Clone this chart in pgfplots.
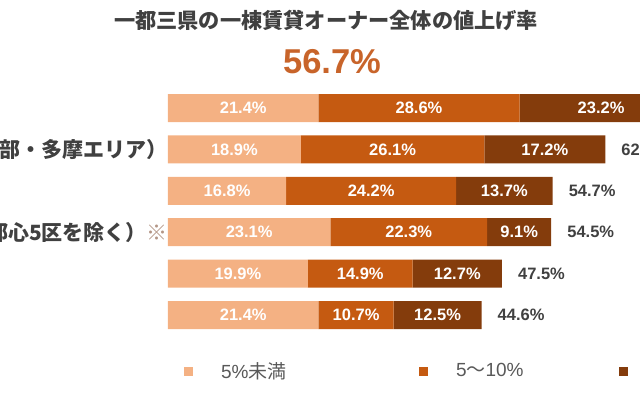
\documentclass[border=0pt]{standalone}
\usepackage{pgfplots}
\pgfplotsset{compat=1.18}
\usepackage{pgfplotstable}
\usepackage{fontspec}
\setmainfont{Liberation Sans}
\newfontfamily\cjk{Noto Sans CJK JP}
\definecolor{cA}{HTML}{F4B183}
\definecolor{cB}{HTML}{C55A11}
\definecolor{cC}{HTML}{843C0C}
\definecolor{txt}{HTML}{404040}
\definecolor{leg}{HTML}{595959}
\definecolor{big}{HTML}{C8642A}
\definecolor{kome}{HTML}{B39585}
\pgfplotsset{
  sqlegend/.style={legend image code/.code={\fill[##1] (0bp,-4.5bp) rectangle (9bp,4.5bp);}},
  seglabel/.style={nodes near coords={\pgfplotspointmeta\%},
     every node near coord/.style={anchor=center,
     font=\fontsize{16.5bp}{18bp}\selectfont\bfseries, text=white, inner sep=0pt}},
  geom/.style={at={(168bp,-87.3bp)}, anchor=north west,
     scale only axis, width=703bp, height=248.4bp,
     xmin=0, xmax=100, ymin=-0.5, ymax=5.5, y dir=reverse,
     hide axis, clip=false},
}

\pgfplotstableread{
row a b c total
0 21.4 28.6 23.2 73.2
1 18.9 26.1 17.2 62.2
2 16.8 24.2 13.7 54.7
3 23.1 22.3 9.1 54.5
4 19.9 14.9 12.7 47.5
5 21.4 10.7 12.5 44.6
}\data

\begin{document}
\begin{tikzpicture}
\useasboundingbox (0,0) rectangle (640bp,-400bp);
\clip (0,0) rectangle (640bp,-400bp);
\begin{axis}[
  geom,
  xbar stacked, bar width=28bp,
  point meta=explicit symbolic,
  legend columns=3,
  legend style={draw=none, fill=none, inner sep=0pt, outer sep=0pt,
     font=\fontsize{19bp}{22bp}\selectfont, text=leg,
     nodes={inner sep=0pt},
     /tikz/every even column/.append style={column sep=28bp},
     /tikz/every odd column/.append style={column sep=28bp},
     at={(0.02276,-0.1421)}, anchor=west},
]
\addplot[fill=cA, draw=none, sqlegend, seglabel]
  table[x=a, y=row, meta=a] {\data};
\addlegendentry{\makebox[170bp][l]{5\%{\cjk 未満}}}
\addplot[fill=cB, draw=none, sqlegend, seglabel]
  table[x=b, y=row, meta=b] {\data};
\addlegendentry{\makebox[135bp][l]{5{\cjk 〜}10\%}}
\addplot[fill=cC, draw=none, sqlegend, seglabel]
  table[x=c, y=row, meta=c] {\data};
\addlegendentry{\makebox[80bp][l]{10\%{\cjk 以上}}}
\node[anchor=east, inner sep=0pt, text=txt, font=\fontsize{21bp}{24bp}\cjk\bfseries]
  at (axis cs:0,1) {東京都（市部・多摩エリア）};
\node[anchor=east, inner sep=0pt, text=txt, font=\fontsize{21bp}{24bp}\cjk\bfseries]
  at (axis cs:0,3) {東京都（都心5区を除く）{\mdseries\color{kome}※}};
\end{axis}
\begin{axis}[geom]
\addplot[draw=none, mark=none, point meta=explicit symbolic,
  nodes near coords={\pgfplotspointmeta\%},
  every node near coord/.style={anchor=west, xshift=16bp,
     font=\fontsize{16.5bp}{18bp}\selectfont\bfseries, text=txt, inner sep=0pt}]
  table[x=total, y=row, meta=total] {\data};
\end{axis}
\node[font=\fontsize{21.2bp}{24bp}\cjk\bfseries, text=txt] at (326bp,-20bp) {一都三県の一棟賃貸オーナー全体の値上げ率};
\node[font=\fontsize{34.5bp}{40bp}\selectfont\bfseries, text=big] at (332bp,-62bp) {56.7\%};
\end{tikzpicture}
\end{document}
